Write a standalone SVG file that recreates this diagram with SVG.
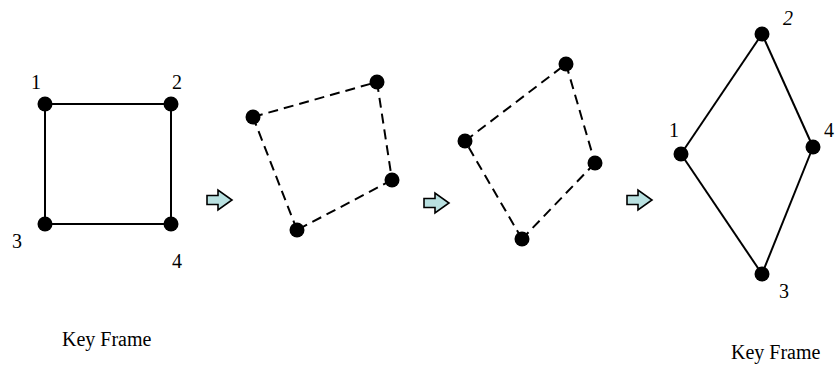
<svg xmlns="http://www.w3.org/2000/svg" width="835" height="366" viewBox="0 0 835 366">
<defs>
<style>
.edge{stroke:#000;stroke-width:2;fill:none}
.dash{stroke:#000;stroke-width:2;fill:none;stroke-dasharray:10 6}
.node{fill:#000}
.lbl{font-family:"Liberation Serif","Times New Roman",serif;font-size:20px;fill:#000}
.arrow{fill:#b9e1e1;stroke:#000;stroke-width:1.6;stroke-linejoin:miter}
</style>
<path id="arr" d="M0,-4.5 H11 V-10 L25,0 L11,10 V4.5 H0 Z"/>
</defs>
<rect width="835" height="366" fill="#fff"/>
<g id="connectors">
<g id="frame1-edges">
<line class="edge" x1="45" y1="104" x2="171" y2="104"/>
<line class="edge" x1="45" y1="104" x2="45" y2="224"/>
<line class="edge" x1="171" y1="104" x2="171" y2="224"/>
<line class="edge" x1="45" y1="224" x2="171" y2="224"/>
</g>
<g id="frame2-edges">
<line class="dash" x1="253" y1="117" x2="377" y2="82"/>
<line class="dash" x1="377" y1="82" x2="392" y2="180"/>
<line class="dash" x1="392" y1="180" x2="297" y2="230"/>
<line class="dash" x1="297" y1="230" x2="253" y2="117"/>
</g>
<g id="frame3-edges">
<line class="dash" x1="465" y1="141" x2="566" y2="64"/>
<line class="dash" x1="566" y1="64" x2="595" y2="163"/>
<line class="dash" x1="595" y1="163" x2="522" y2="239"/>
<line class="dash" x1="522" y1="239" x2="465" y2="141"/>
</g>
<g id="frame4-edges">
<line class="edge" x1="681" y1="154" x2="762" y2="34"/>
<line class="edge" x1="762" y1="34" x2="813" y2="147"/>
<line class="edge" x1="813" y1="147" x2="762" y2="274"/>
<line class="edge" x1="762" y1="274" x2="681" y2="154"/>
</g>
<g id="arrows">
<use href="#arr" class="arrow" transform="translate(207,200)"/>
<use href="#arr" class="arrow" transform="translate(424,203)"/>
<use href="#arr" class="arrow" transform="translate(627,200)"/>
</g>
</g>
<g id="frame1">
<g id="f1n1"><circle class="node" cx="45" cy="104" r="7.5"/><text class="lbl" x="31" y="89">1</text></g>
<g id="f1n2"><circle class="node" cx="171" cy="104" r="7.5"/><text class="lbl" x="172" y="89">2</text></g>
<g id="f1n3"><circle class="node" cx="45" cy="224" r="7.5"/><text class="lbl" x="12" y="248">3</text></g>
<g id="f1n4"><circle class="node" cx="171" cy="224" r="7.5"/><text class="lbl" x="172" y="268">4</text></g>
</g>
<g id="frame2">
<g id="f2n1"><circle class="node" cx="253" cy="117" r="7.5"/></g>
<g id="f2n2"><circle class="node" cx="377" cy="82" r="7.5"/></g>
<g id="f2n3"><circle class="node" cx="392" cy="180" r="7.5"/></g>
<g id="f2n4"><circle class="node" cx="297" cy="230" r="7.5"/></g>
</g>
<g id="frame3">
<g id="f3n1"><circle class="node" cx="465" cy="141" r="7.5"/></g>
<g id="f3n2"><circle class="node" cx="566" cy="64" r="7.5"/></g>
<g id="f3n3"><circle class="node" cx="595" cy="163" r="7.5"/></g>
<g id="f3n4"><circle class="node" cx="522" cy="239" r="7.5"/></g>
</g>
<g id="frame4">
<g id="f4n1"><circle class="node" cx="681" cy="154" r="7.5"/><text class="lbl" x="669" y="137">1</text></g>
<g id="f4n2"><circle class="node" cx="762" cy="34" r="7.5"/><text class="lbl" x="783" y="25" font-style="italic">2</text></g>
<g id="f4n3"><circle class="node" cx="762" cy="274" r="7.5"/><text class="lbl" x="779" y="298">3</text></g>
<g id="f4n4"><circle class="node" cx="813" cy="147" r="7.5"/><text class="lbl" x="824" y="137">4</text></g>
</g>
<g id="captions">
<text class="lbl" x="62" y="346">Key Frame</text>
<text class="lbl" x="731" y="359">Key Frame</text>
</g>
</svg>
